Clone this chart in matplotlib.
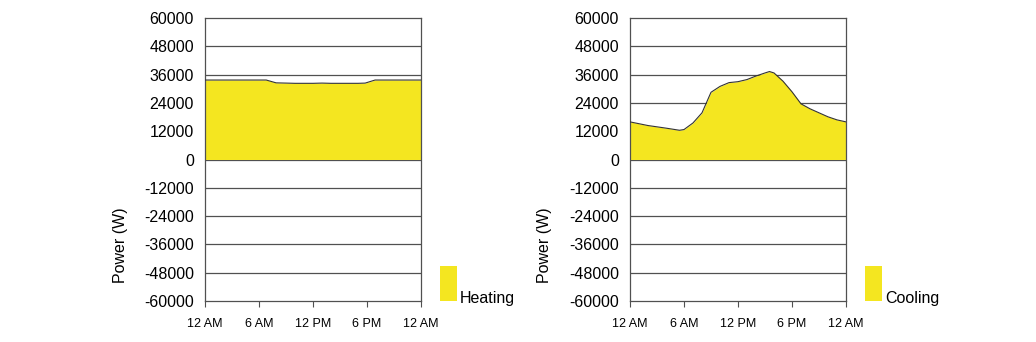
import matplotlib
matplotlib.use("Agg")
import matplotlib.pyplot as plt
import numpy as np

plt.rcParams['font.family'] = ['Liberation Sans', 'DejaVu Sans']

hours_heat = [0, 1, 2, 3, 4, 5, 6, 6.8, 7.9, 9, 10, 11, 12, 13, 14, 15, 16, 17, 17.8, 18.9, 20, 21, 22, 23, 24]
heating = [33700, 33700, 33700, 33700, 33700, 33700, 33700, 33700, 32500, 32400, 32300, 32300, 32300, 32400, 32300, 32300, 32300, 32300, 32400, 33700, 33700, 33700, 33700, 33700, 33700]

hours_cool = [0, 2, 4, 5.5, 6, 7, 8, 9, 10, 11, 12, 13, 14, 15, 15.5, 16, 17, 18, 19, 20, 21, 22, 23, 24]
cooling = [15950, 14400, 13300, 12400, 12700, 15500, 19800, 28500, 31000, 32600, 33000, 33900, 35400, 36700, 37300, 36700, 33200, 28700, 23600, 21500, 19800, 18100, 16800, 15950]

yticks = [60000, 48000, 36000, 24000, 12000, 0, -12000, -24000, -36000, -48000, -60000]
xticks = [0, 6, 12, 18, 24]
xlabels = ['12 AM', '6 AM', '12 PM', '6 PM', '12 AM']
names = ['Heating', 'Cooling']

fill_color = '#F4E620'
line_gray = '#505050'
W, H = 1036, 342
fig = plt.figure(figsize=(W/100, H/100), dpi=100)

panels = [(205, hours_heat, heating, names[0]), (630, hours_cool, cooling, names[1])]
for x0, hx, vals, name in panels:
    ax = fig.add_axes([x0/W, 1-301/H, 216/W, (301-18)/H])
    ax.fill_between(hx, 0, vals, color=fill_color, linewidth=0, zorder=2)
    ax.plot(hx, vals, color='#333333', linewidth=0.8, zorder=3)
    ax.set_xlim(0, 24)
    ax.set_ylim(-60000, 60000)
    ax.set_yticks(yticks)
    ax.set_yticklabels([str(v) for v in yticks], fontsize=11.5)
    ax.set_xticks(xticks)
    ax.set_xticklabels(xlabels, fontsize=9)
    for v in yticks[1:-1]:
        ax.axhline(v, color=line_gray, linewidth=0.9, zorder=1)
    for s in ['top', 'bottom', 'left', 'right']:
        ax.spines[s].set_color(line_gray)
        ax.spines[s].set_linewidth(0.9)
    ax.tick_params(axis='y', length=0, pad=8)
    ax.tick_params(axis='x', length=4, direction='out', color=line_gray, pad=8)
    fig.text((x0-85)/W, 1-245/H, 'Power (W)', rotation=90, ha='center', va='center', fontsize=11.5)
    # legend
    lx = x0 + 235
    fig.patches.append(plt.Rectangle((lx/W, 1-301/H), 17/W, 35/H, transform=fig.transFigure,
                                     facecolor=fill_color, edgecolor='none'))
    fig.text((lx+20)/W, 1-303/H, name, ha='left', va='baseline', fontsize=11.5)

fig.savefig('out.png', dpi=100)
